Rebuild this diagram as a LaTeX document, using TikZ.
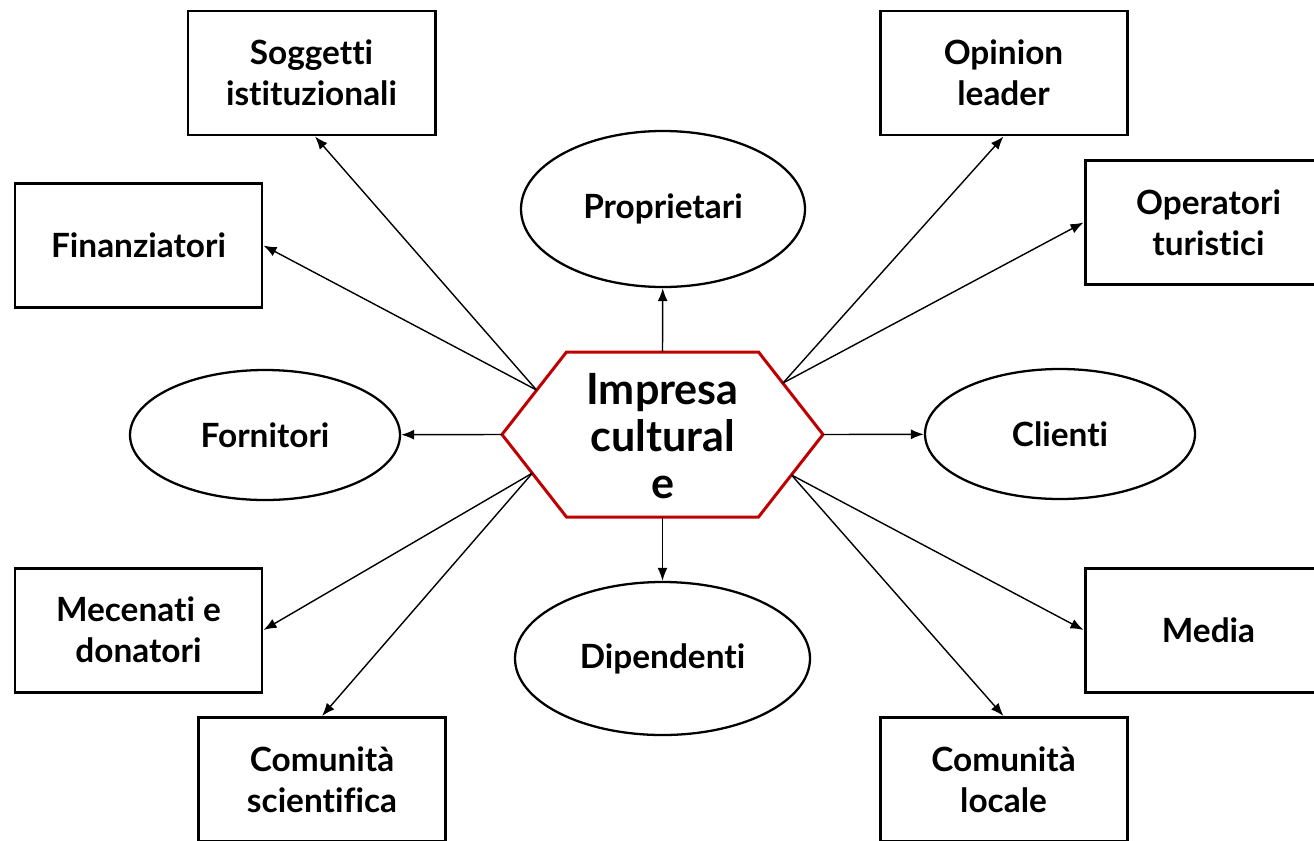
\documentclass[tikz,border=0pt]{standalone}
\usepackage{fontspec}
\setmainfont{Lato}[Ligatures=NoCommon]
\usetikzlibrary{arrows.meta,shapes.geometric}
\definecolor{hexred}{RGB}{192,0,0}
\begin{document}
\begin{tikzpicture}[>={Latex[length=2.6mm,width=2mm]}]
  \tikzset{
    box/.style={draw,line width=1.7pt,minimum width=4.94cm,minimum height=2.48cm,
      align=center,font=\fontsize{19}{23.3}\selectfont\bfseries},
    oval/.style={draw,ellipse,line width=1.3pt,inner sep=0pt,align=center,
      font=\fontsize{19}{23.3}\selectfont\bfseries},
    link/.style={->,line width=0.8pt},
  }
  \clip (0,0) rectangle (26.28,-16.8);
  \useasboundingbox (0,0) rectangle (26.28,-16.8);
  % centre
  \node[align=center,font=\fontsize{24.5}{26.7}\selectfont\bfseries] (imp) at (13.25,-8.72) {Impresa\\cultural\\e};
  \draw[hexred,line width=1.7pt] ([shift={(-3.21,0.03)}]imp.center) -- ([shift={(-1.92,1.68)}]imp.center)
    -- ([shift={(1.92,1.68)}]imp.center) -- ([shift={(3.21,0.03)}]imp.center)
    -- ([shift={(1.92,-1.62)}]imp.center) -- ([shift={(-1.92,-1.62)}]imp.center) -- cycle;
  \coordinate (top) at ([shift={(0,1.68)}]imp.center);
  \coordinate (bot) at ([shift={(0,-1.62)}]imp.center);
  \coordinate (lft) at ([shift={(-3.21,0.03)}]imp.center);
  \coordinate (rgt) at ([shift={(3.21,0.03)}]imp.center);
  \coordinate (ul) at ([shift={(-2.52,0.92)}]imp.center);
  \coordinate (ur) at ([shift={(2.41,1.06)}]imp.center);
  \coordinate (ll) at ([shift={(-2.60,-0.74)}]imp.center);
  \coordinate (lr) at ([shift={(2.58,-0.78)}]imp.center);
  % ovals
  \node[oval,minimum width=5.68cm,minimum height=3.12cm] (prop) at (13.26,-4.18) {Proprietari};
  \node[oval,minimum width=5.9cm,minimum height=3.06cm] (dip) at (13.25,-13.17) {Dipendenti};
  \node[oval,minimum width=5.4cm,minimum height=2.6cm] (forn) at (5.3,-8.7) {Fornitori};
  \node[oval,minimum width=5.4cm,minimum height=2.6cm] (cli) at (21.2,-8.68) {Clienti};
  % boxes
  \node[box] (sogg) at (6.23,-1.46) {Soggetti\\istituzionali};
  \node[box] (opin) at (20.07,-1.46) {Opinion\\leader};
  \node[box] (fin) at (2.77,-4.91) {Finanziatori};
  \node[box] (oper) at (24.17,-4.45) {Operatori\\turistici};
  \node[box] (mec) at (2.77,-12.6) {Mecenati e\\donatori};
  \node[box] (media) at (24.17,-12.6) {Media};
  \node[box] (comsci) at (6.44,-15.59) {Comunità\\scientifica};
  \node[box] (comloc) at (20.07,-15.59) {Comunità\\locale};
  % arrows
  \draw[link] (top) -- (prop);
  \draw[link] (bot) -- (dip);
  \draw[link] (lft) -- (forn);
  \draw[link] (rgt) -- (cli);
  \draw[link] (ul) -- ([xshift=0.07cm]sogg.south);
  \draw[link] (ul) -- (fin.east);
  \draw[link] (ur) -- (opin.south);
  \draw[link] (ur) -- (oper.west);
  \draw[link] (ll) -- (mec.east);
  \draw[link] (ll) -- (comsci.north);
  \draw[link] (lr) -- (media.west);
  \draw[link] (lr) -- (comloc.north);
\end{tikzpicture}
\end{document}
